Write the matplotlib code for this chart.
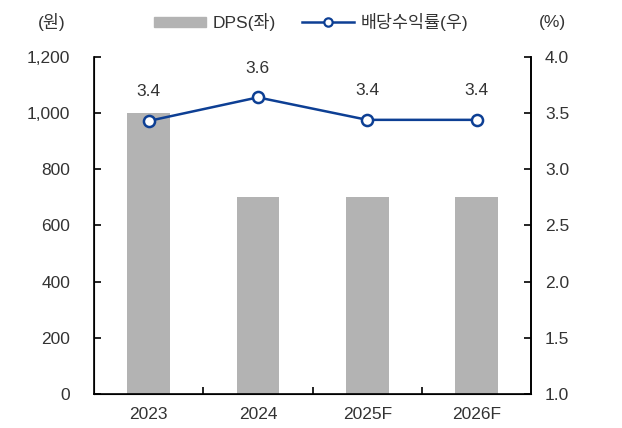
import numpy as np
import matplotlib.pyplot as plt
from matplotlib.lines import Line2D
from matplotlib.patches import Patch

plt.rcParams['font.family'] = ['Liberation Sans', 'Noto Sans CJK KR']

years = ['2023', '2024', '2025F', '2026F']
dps = [1000, 700, 700, 700]
yield_pct = [3.43, 3.64, 3.44, 3.44]
yield_labels = ['3.4', '3.6', '3.4', '3.4']

txt = '#333333'
bar_c = '#b3b3b3'
line_c = '#0d3f94'
fs = 12.5

fig = plt.figure(figsize=(6.22, 4.28), dpi=100)
ax = fig.add_axes([0.151, 0.0794, 0.703, 0.7876])
x = np.arange(len(years))
ax.bar(x, dps, width=0.39, color=bar_c, zorder=1)
ax.set_xlim(-0.5, 3.5)
ax.set_ylim(0, 1200)
ax.set_yticks(range(0, 1201, 200))
ax.set_yticklabels([f'{v:,}' for v in range(0, 1201, 200)])
ax.set_xticks(x)
ax.set_xticklabels(years)
ax.set_xticks([0.5, 1.5, 2.5], minor=True)
ax.tick_params(axis='x', which='major', length=0, pad=9, labelsize=fs, labelcolor=txt)
ax.tick_params(axis='x', which='minor', direction='in', length=5, width=1.2)
ax.tick_params(axis='y', direction='in', length=5, width=1.2, pad=17, labelsize=fs, labelcolor=txt)
ax.spines['top'].set_visible(False)
for s in ['left', 'bottom', 'right']:
    ax.spines[s].set_linewidth(1.2)

ax2 = ax.twinx()
ax2.plot(x, yield_pct, color=line_c, lw=1.8, marker='o', ms=8, mfc='white', mec=line_c, mew=1.8, zorder=3)
for xi, yi, lab in zip(x, yield_pct, yield_labels):
    ax2.annotate(lab, (xi, yi), xytext=(0, 21), textcoords='offset points', ha='center', va='center',
                 fontsize=fs, color=txt)
ax2.set_ylim(1.0, 4.0)
ax2.set_yticks(np.arange(1.0, 4.01, 0.5))
ax2.set_yticklabels([f'{v:.1f}' for v in np.arange(1.0, 4.01, 0.5)])
ax2.tick_params(axis='y', direction='in', length=5, width=1.2, pad=10, labelsize=fs, labelcolor=txt)
ax2.spines['top'].set_visible(False)
ax2.spines['right'].set_linewidth(1.2)

fig.text(52 / 622, 1 - 22 / 428, '(원)', ha='center', va='center', fontsize=fs, color=txt)
fig.text(552 / 622, 1 - 22 / 428, '(%)', ha='center', va='center', fontsize=fs, color=txt)

handles = [Patch(color=bar_c), Line2D([], [], color=line_c, lw=1.8, marker='o', ms=6, mfc='white', mec=line_c, mew=1.6)]
fig.legend(handles, ['DPS(좌)', '배당수익률(우)'], loc='center', bbox_to_anchor=(0.5, 1 - 22 / 428), ncol=2,
           frameon=False, fontsize=fs, labelcolor=txt, handlelength=3, handleheight=0.5, columnspacing=1.5,
           handletextpad=0.4)

fig.savefig('out.png', dpi=100)
